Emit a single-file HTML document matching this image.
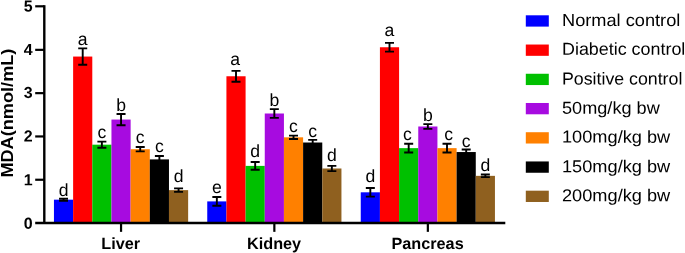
<!DOCTYPE html><html><head><meta charset="utf-8"><title>MDA chart</title><style>html,body{margin:0;padding:0;background:#fff}svg{display:block}text{font-family:"Liberation Sans",Arial,sans-serif;fill:#000}.b{font-weight:bold;font-size:16.25px}.t{font-weight:bold;font-size:16px}.yl{font-weight:bold;font-size:17.3px}.l{font-size:17.3px}.s{font-size:17.6px}</style></head><body>
<svg width="685" height="253" viewBox="0 0 685 253">
<rect width="685" height="253" fill="#fff"/>
<rect x="53.95" y="199.67" width="19.17" height="23.38" fill="#0000ff"/>
<rect x="73.12" y="56.56" width="19.17" height="166.49" fill="#ff0000"/>
<rect x="92.29" y="144.68" width="19.17" height="78.37" fill="#00c000"/>
<rect x="111.46" y="119.56" width="19.17" height="103.49" fill="#a70be0"/>
<rect x="130.63" y="149.22" width="19.17" height="73.83" fill="#ff8000"/>
<rect x="149.80" y="159.40" width="19.17" height="63.65" fill="#000000"/>
<rect x="168.97" y="190.14" width="19.17" height="32.91" fill="#8f601f"/>
<path d="M63.54 198.59V200.75M59.04 198.59H68.03M59.04 200.75H68.03" stroke="#000" stroke-width="1.9" fill="none"/>
<text class="s" transform="matrix(1 0.0006 0 1 63.54 196)" text-anchor="middle">d</text>
<path d="M82.71 48.33V64.79M78.21 48.33H87.21M78.21 64.79H87.21" stroke="#000" stroke-width="1.9" fill="none"/>
<text class="s" transform="matrix(1 0.0006 0 1 82.71 45)" text-anchor="middle">a</text>
<path d="M101.88 141.65V147.71M97.38 141.65H106.38M97.38 147.71H106.38" stroke="#000" stroke-width="1.9" fill="none"/>
<text class="s" transform="matrix(1 0.0006 0 1 101.88 138)" text-anchor="middle">c</text>
<path d="M121.05 113.93V125.19M116.55 113.93H125.55M116.55 125.19H125.55" stroke="#000" stroke-width="1.9" fill="none"/>
<text class="s" transform="matrix(1 0.0006 0 1 121.05 111)" text-anchor="middle">b</text>
<path d="M140.22 147.06V151.39M135.72 147.06H144.72M135.72 151.39H144.72" stroke="#000" stroke-width="1.9" fill="none"/>
<text class="s" transform="matrix(1 0.0006 0 1 140.22 143)" text-anchor="middle">c</text>
<path d="M159.39 155.94V162.86M154.89 155.94H163.89M154.89 162.86H163.89" stroke="#000" stroke-width="1.9" fill="none"/>
<text class="s" transform="matrix(1 0.0006 0 1 159.39 152)" text-anchor="middle">c</text>
<path d="M178.56 188.41V191.87M174.06 188.41H183.06M174.06 191.87H183.06" stroke="#000" stroke-width="1.9" fill="none"/>
<text class="s" transform="matrix(1 0.0006 0 1 178.56 182)" text-anchor="middle">d</text>
<rect x="207.25" y="201.40" width="19.17" height="21.65" fill="#0000ff"/>
<rect x="226.42" y="76.26" width="19.17" height="146.79" fill="#ff0000"/>
<rect x="245.59" y="165.89" width="19.17" height="57.16" fill="#00c000"/>
<rect x="264.76" y="113.50" width="19.17" height="109.55" fill="#a70be0"/>
<rect x="283.93" y="137.32" width="19.17" height="85.73" fill="#ff8000"/>
<rect x="303.10" y="142.51" width="19.17" height="80.54" fill="#000000"/>
<rect x="322.27" y="168.49" width="19.17" height="54.56" fill="#8f601f"/>
<path d="M216.84 197.07V205.73M212.34 197.07H221.34M212.34 205.73H221.34" stroke="#000" stroke-width="1.9" fill="none"/>
<text class="s" transform="matrix(1 0.0006 0 1 216.84 193)" text-anchor="middle">e</text>
<path d="M236.01 70.85V81.68M231.51 70.85H240.51M231.51 81.68H240.51" stroke="#000" stroke-width="1.9" fill="none"/>
<text class="s" transform="matrix(1 0.0006 0 1 235.21 65)" text-anchor="middle">a</text>
<path d="M255.18 162.00V169.79M250.68 162.00H259.68M250.68 169.79H259.68" stroke="#000" stroke-width="1.9" fill="none"/>
<text class="s" transform="matrix(1 0.0006 0 1 255.18 157)" text-anchor="middle">d</text>
<path d="M274.34 109.17V117.83M269.84 109.17H278.84M269.84 117.83H278.84" stroke="#000" stroke-width="1.9" fill="none"/>
<text class="s" transform="matrix(1 0.0006 0 1 274.34 106)" text-anchor="middle">b</text>
<path d="M293.51 135.58V139.05M289.01 135.58H298.01M289.01 139.05H298.01" stroke="#000" stroke-width="1.9" fill="none"/>
<text class="s" transform="matrix(1 0.0006 0 1 293.51 132)" text-anchor="middle">c</text>
<path d="M312.69 139.91V145.11M308.19 139.91H317.19M308.19 145.11H317.19" stroke="#000" stroke-width="1.9" fill="none"/>
<text class="s" transform="matrix(1 0.0006 0 1 312.69 137)" text-anchor="middle">c</text>
<path d="M331.85 165.89V171.09M327.35 165.89H336.35M327.35 171.09H336.35" stroke="#000" stroke-width="1.9" fill="none"/>
<text class="s" transform="matrix(1 0.0006 0 1 331.85 161)" text-anchor="middle">d</text>
<rect x="360.75" y="192.31" width="19.17" height="30.74" fill="#0000ff"/>
<rect x="379.92" y="47.25" width="19.17" height="175.80" fill="#ff0000"/>
<rect x="399.09" y="148.14" width="19.17" height="74.91" fill="#00c000"/>
<rect x="418.26" y="126.49" width="19.17" height="96.56" fill="#a70be0"/>
<rect x="437.43" y="148.14" width="19.17" height="74.91" fill="#ff8000"/>
<rect x="456.60" y="152.04" width="19.17" height="71.01" fill="#000000"/>
<rect x="475.77" y="175.85" width="19.17" height="47.20" fill="#8f601f"/>
<path d="M370.33 187.98V196.64M365.83 187.98H374.83M365.83 196.64H374.83" stroke="#000" stroke-width="1.9" fill="none"/>
<text class="s" transform="matrix(1 0.0006 0 1 370.33 182)" text-anchor="middle">d</text>
<path d="M389.50 42.92V51.58M385.00 42.92H394.00M385.00 51.58H394.00" stroke="#000" stroke-width="1.9" fill="none"/>
<text class="s" transform="matrix(1 0.0006 0 1 389.50 36)" text-anchor="middle">a</text>
<path d="M408.68 143.81V152.47M404.18 143.81H413.18M404.18 152.47H413.18" stroke="#000" stroke-width="1.9" fill="none"/>
<text class="s" transform="matrix(1 0.0006 0 1 407.28 140)" text-anchor="middle">c</text>
<path d="M427.84 124.11V128.87M423.34 124.11H432.34M423.34 128.87H432.34" stroke="#000" stroke-width="1.9" fill="none"/>
<text class="s" transform="matrix(1 0.0006 0 1 427.84 121)" text-anchor="middle">b</text>
<path d="M447.01 143.81V152.47M442.51 143.81H451.51M442.51 152.47H451.51" stroke="#000" stroke-width="1.9" fill="none"/>
<text class="s" transform="matrix(1 0.0006 0 1 448.62 140)" text-anchor="middle">c</text>
<path d="M466.19 149.44V154.64M461.69 149.44H470.69M461.69 154.64H470.69" stroke="#000" stroke-width="1.9" fill="none"/>
<text class="s" transform="matrix(1 0.0006 0 1 466.19 147)" text-anchor="middle">c</text>
<path d="M485.35 174.55V177.15M480.85 174.55H489.85M480.85 177.15H489.85" stroke="#000" stroke-width="1.9" fill="none"/>
<text class="s" transform="matrix(1 0.0006 0 1 485.35 171)" text-anchor="middle">d</text>
<path d="M44.30 5.2V223.05" stroke="#000" stroke-width="2.4" fill="none"/>
<path d="M35.2 223.05H505.3" stroke="#000" stroke-width="2.4" fill="none"/>
<text class="t" transform="matrix(1 0.0006 0 1 32.7 228.7)" text-anchor="end">0</text>
<path d="M35.2 179.75H44.30" stroke="#000" stroke-width="2.2" fill="none"/>
<text class="t" transform="matrix(1 0.0006 0 1 32.7 185.3)" text-anchor="end">1</text>
<path d="M35.2 136.45H44.30" stroke="#000" stroke-width="2.2" fill="none"/>
<text class="t" transform="matrix(1 0.0006 0 1 32.7 141.4)" text-anchor="end">2</text>
<path d="M35.2 93.15H44.30" stroke="#000" stroke-width="2.2" fill="none"/>
<text class="t" transform="matrix(1 0.0006 0 1 32.7 98.1)" text-anchor="end">3</text>
<path d="M35.2 49.85H44.30" stroke="#000" stroke-width="2.2" fill="none"/>
<text class="t" transform="matrix(1 0.0006 0 1 32.7 55.1)" text-anchor="end">4</text>
<path d="M35.2 6.30H44.30" stroke="#000" stroke-width="2.2" fill="none"/>
<text class="t" transform="matrix(1 0.0006 0 1 32.7 11.5)" text-anchor="end">5</text>
<path d="M121.05 223.05V231.85" stroke="#000" stroke-width="2.2" fill="none"/>
<text class="b" transform="matrix(1 0.0006 0 1 120.75 248.9)" text-anchor="middle">Liver</text>
<path d="M274.35 223.05V231.85" stroke="#000" stroke-width="2.2" fill="none"/>
<text class="b" transform="matrix(1 0.0006 0 1 274.05 248.9)" text-anchor="middle">Kidney</text>
<path d="M427.85 223.05V231.85" stroke="#000" stroke-width="2.2" fill="none"/>
<text class="b" transform="matrix(1 0.0006 0 1 427.55 248.9)" text-anchor="middle">Pancreas</text>
<text class="yl" transform="translate(13.4 113.1) rotate(-90) scale(1.05 1)" text-anchor="middle">MDA(nmol/mL)</text>
<rect x="525.8" y="15.30" width="23" height="11.3" fill="#0000ff"/>
<text class="l" transform="matrix(1.052 0.0006 0 1 562.0 26.00)">Normal control</text>
<rect x="525.8" y="44.53" width="23" height="11.3" fill="#ff0000"/>
<text class="l" transform="matrix(1.035 0.0006 0 1 562.0 54.80)">Diabetic control</text>
<rect x="525.8" y="73.76" width="23" height="11.3" fill="#00c000"/>
<text class="l" transform="matrix(1.027 0.0006 0 1 562.0 84.40)">Positive control</text>
<rect x="525.8" y="102.99" width="23" height="11.3" fill="#a70be0"/>
<text class="l" transform="matrix(1.048 0.0006 0 1 562.0 113.80)">50mg/kg bw</text>
<rect x="525.8" y="132.22" width="23" height="11.3" fill="#ff8000"/>
<text class="l" transform="matrix(1.052 0.0006 0 1 562.0 142.60)">100mg/kg bw</text>
<rect x="525.8" y="161.45" width="23" height="11.3" fill="#000000"/>
<text class="l" transform="matrix(1.052 0.0006 0 1 562.0 172.30)">150mg/kg bw</text>
<rect x="525.8" y="190.68" width="23" height="11.3" fill="#8f601f"/>
<text class="l" transform="matrix(1.052 0.0006 0 1 562.0 201.20)">200mg/kg bw</text>
</svg></body></html>
